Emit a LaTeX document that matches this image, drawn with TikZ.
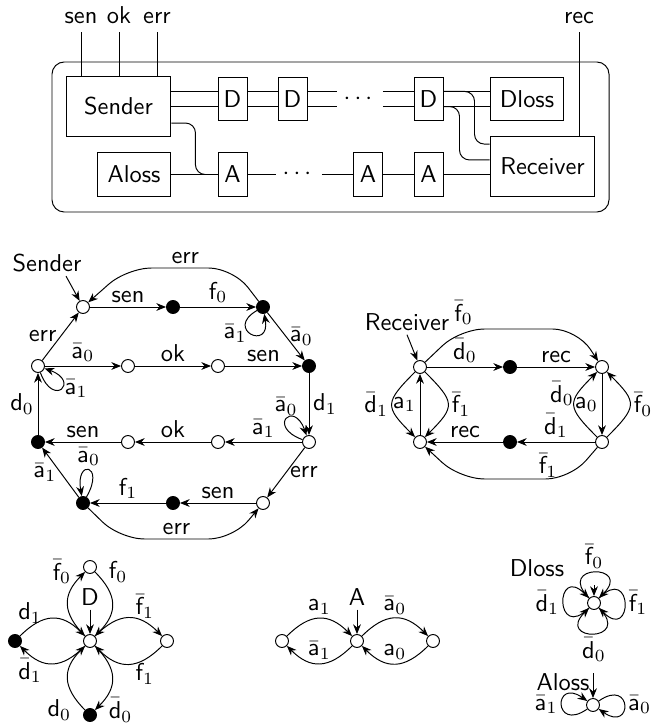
\documentclass[tikz,border=0pt]{standalone}
\usepackage{amsmath}
\usepackage{amsfonts}
\usetikzlibrary{arrows.meta}
\renewcommand{\familydefault}{\sfdefault}

\begin{document}
\begin{tikzpicture}[x=0.41pt, y=-0.41pt, >={Stealth[length=4pt, width=3.2pt]},
  every node/.append style={inner sep=1.5pt},
  st/.style={draw, circle, fill=white, inner sep=0pt, minimum size=5.3pt},
  acc/.style={st, fill=black},
  box/.style={draw, minimum width=43pt, minimum height=24.2pt},
  lbox/.style={draw, minimum width=30.3pt, minimum height=17.8pt},
  cell/.style={draw, minimum width=11.9pt, minimum height=17.8pt, inner sep=0pt},
  sig/.style={anchor=base, inner sep=3pt},
  dts/.style={inner sep=2.5pt}]
\useasboundingbox (0,0) rectangle (652,724);

% the network
\draw[rounded corners=5pt] (52,62) rectangle (609,212);
\node[box] (sender) at (118.5,106.5) {Sender};
\node[lbox] (aloss) at (134,174.5) {Aloss};
\node[cell] (d1) at (232.5,99) {D};
\node[cell] (d2) at (292.5,99) {D};
\node[dts] (ddots) at (360,99) {$\cdots$};
\node[cell] (d3) at (428.5,99) {D};
\node[lbox] (dloss) at (527,99) {Dloss};
\node[cell] (a1) at (232.5,174.5) {A};
\node[dts] (adots) at (299,174.5) {$\cdots$};
\node[cell] (a2) at (368,174.5) {A};
\node[cell] (a3) at (428.5,174.5) {A};
\node[box] (recv) at (542.5,166.5) {Receiver};

\foreach \n/\x in {sen/81, ok/119, err/157} {
  \node[sig] (\n) at (\x,24) {\n};
  \draw (\n.south) -- (\n.south |- sender.north);
}
\node[sig] (rec) at (579,24) {rec};
\draw (rec.south) -- (rec.south |- recv.north);

\foreach \dy in {3.1pt,-3.1pt} {
  \draw ([yshift=\dy]d1.west -| sender.east) -- ([yshift=\dy]d1.west);
  \draw ([yshift=\dy]d1.east) -- ([yshift=\dy]d2.west);
  \draw ([yshift=\dy]d2.east) -- ([yshift=\dy]d2.east -| ddots.west);
  \draw ([yshift=\dy]d3.west -| ddots.east) -- ([yshift=\dy]d3.west);
  \draw ([yshift=\dy]d3.east) -- ([yshift=\dy]dloss.west);
}
\draw[rounded corners=4pt] ([yshift=3.1pt]d3.east) -- ++(31,0) |- ([yshift=9.2pt]recv.west);
\draw[rounded corners=4pt] ([yshift=-3.1pt]d3.east) -- ++(16,0) |- ([yshift=2.7pt]recv.west);
\draw[rounded corners=4pt] ([yshift=-6.8pt]sender.east) -- ++(24,0) |- (a1.west);
\draw (aloss) -- (a1);
\draw (a1) -- (adots);
\draw (adots) -- (a2);
\draw (a2) -- (a3);
\draw (a3) -- (a3 -| recv.west);

% sender
\node[st] (s0) at (83,307) {};
\node[acc] (s1) at (173,307) {};
\node[acc] (s2) at (263,307) {};
\node[st] (s4) at (38,366) {};
\node[st] (s5) at (128,366) {};
\node[st] (s6) at (218,366) {};
\node[acc] (s3) at (309,366) {};
\node[acc] (s10) at (38,442) {};
\node[st] (s9) at (128,442) {};
\node[st] (s8) at (218,442) {};
\node[st] (s7) at (309,442) {};
\node[acc] (s11) at (83,503) {};
\node[acc] (s12) at (173,503) {};
\node[st] (s13) at (263,503) {};
\node (sendl) at (47,263) {Sender};
\draw[->] ([xshift=-8pt]sendl.south east) -- (s0);
\draw[->] (s0) -- node[above] {sen} (s1);
\draw[->] (s1) -- node[above] {$\mathsf{f}_0$} (s2);
\draw[->, rounded corners=10pt] (s2) -- ++(-30,-39) -- node[above, pos=0.45] {err} ++(-106,0) -- (s0);
\draw[->] (s2) to[out=-150, in=-80, min distance=5.5mm] node[left] {$\bar{\mathsf{a}}_1$} (s2);
\draw[->] (s2) -- node[right] {$\bar{\mathsf{a}}_0$} (s3);
\draw[->] (s4) -- node[left] {err} (s0);
\draw[->] (s4) -- node[above] {$\bar{\mathsf{a}}_0$} (s5);
\draw[->] (s4) to[out=-70, in=-20, min distance=5.5mm] node[right] {$\bar{\mathsf{a}}_1$} (s4);
\draw[->] (s5) -- node[above] {ok} (s6);
\draw[->] (s6) -- node[above] {sen} (s3);
\draw[->] (s3) -- node[right] {$\mathsf{d}_1$} (s7);
\draw[->] (s7) to[out=160, in=110, min distance=5.5mm] node[above] {$\bar{\mathsf{a}}_0$} (s7);
\draw[->] (s7) -- node[above] {$\bar{\mathsf{a}}_1$} (s8);
\draw[->] (s8) -- node[above] {ok} (s9);
\draw[->] (s9) -- node[above] {sen} (s10);
\draw[->] (s10) -- node[left] {$\mathsf{d}_0$} (s4);
\draw[->] (s7) -- node[right] {err} (s13);
\draw[->] (s13) -- node[above] {sen} (s12);
\draw[->] (s12) -- node[above] {$\mathsf{f}_1$} (s11);
\draw[->] (s11) to[out=60, in=100, min distance=5.5mm] node[above] {$\bar{\mathsf{a}}_0$} (s11);
\draw[->] (s11) -- node[left] {$\bar{\mathsf{a}}_1$} (s10);
\draw[->, rounded corners=10pt] (s11) -- ++(37,36) -- node[above] {err} ++(113,0) -- (s13);

% receiver
\node[st] (r0) at (420,367) {};
\node[acc] (r1) at (510,367) {};
\node[st] (r2) at (602,367) {};
\node[st] (r5) at (420,442) {};
\node[acc] (r4) at (510,442) {};
\node[st] (r3) at (602,442) {};
\node (recl) at (407,322) {Receiver};
\draw[->] (recl.south) -- (r0);
\draw[->] (r0) -- node[above] {$\bar{\mathsf{d}}_0$} (r1);
\draw[->] (r1) -- node[above] {rec} (r2);
\draw[->, rounded corners=10pt] (r0) -- ++(40,-38) -- node[above, pos=0.03] {$\bar{\mathsf{f}}_0$} ++(117,0) -- (r2);
\draw[->] (r2) -- node[left] {$\mathsf{a}_0$} (r3);
\draw[->] (r3) to[out=135, in=-135, looseness=1.7] node[left, pos=0.7] {$\bar{\mathsf{d}}_0$} (r2);
\draw[->] (r3) to[out=45, in=-45, looseness=1.7] node[right] {$\bar{\mathsf{f}}_0$} (r2);
\draw[->] (r3) -- node[above] {$\bar{\mathsf{d}}_1$} (r4);
\draw[->] (r4) -- node[above] {rec} (r5);
\draw[->, rounded corners=10pt] (r3) -- ++(-32,37) -- node[above=-1pt, pos=0.2] {$\bar{\mathsf{f}}_1$} ++(-110,0) -- (r5);
\draw[->] (r5) -- node[left] {$\mathsf{a}_1$} (r0);
\draw[->] (r0) to[out=-135, in=135, looseness=1.7] node[left] {$\bar{\mathsf{d}}_1$} (r5);
\draw[->] (r0) to[out=-45, in=45, looseness=1.7] node[right] {$\bar{\mathsf{f}}_1$} (r5);

% D
\node[st] (dc) at (90,641) {};
\node[st] (dt) at (90,567) {};
\node[st] (dr) at (167,641) {};
\node[acc] (dl) at (15,641) {};
\node[acc] (db) at (90,715) {};
\node (dlab) at (90,597) {D};
\draw[->] (dlab) -- (dc);
\draw[->] (dc) to[out=135, in=-135, looseness=1.3] node[left=4pt, pos=1] {$\bar{\mathsf{f}}_0$} (dt);
\draw[->] (dt) to[out=-45, in=45, looseness=1.3] node[right=4pt, pos=0] {$\mathsf{f}_0$} (dc);
\draw[->] (dc) to[out=45, in=135, looseness=1.3] node[above, pos=0.75] {$\bar{\mathsf{f}}_1$} (dr);
\draw[->] (dr) to[out=-135, in=-45, looseness=1.3] node[below, pos=0.25] {$\mathsf{f}_1$} (dc);
\draw[->] (dl) to[out=45, in=135, looseness=1.3] node[above, pos=0.15] {$\mathsf{d}_1$} (dc);
\draw[->] (dc) to[out=-135, in=-45, looseness=1.3] node[below, pos=0.85] {$\bar{\mathsf{d}}_1$} (dl);
\draw[->] (db) to[out=135, in=-135, looseness=1.3] node[left=4pt, pos=0] {$\mathsf{d}_0$} (dc);
\draw[->] (dc) to[out=-45, in=45, looseness=1.3] node[right=4pt, pos=1] {$\bar{\mathsf{d}}_0$} (db);

% A
\node[st] (al) at (282,641) {};
\node[st] (ac) at (357,641) {};
\node[st] (ar) at (433,641) {};
\node (alab) at (357,597) {A};
\draw[->] (alab) -- (ac);
\draw[->] (al) to[out=45, in=135, looseness=1.3] node[above] {$\mathsf{a}_1$} (ac);
\draw[->] (ac) to[out=-135, in=-45, looseness=1.3] node[above] {$\bar{\mathsf{a}}_1$} (al);
\draw[->] (ac) to[out=45, in=135, looseness=1.3] node[above] {$\bar{\mathsf{a}}_0$} (ar);
\draw[->] (ar) to[out=-135, in=-45, looseness=1.3] node[above] {$\mathsf{a}_0$} (ac);

% Dloss
\node[st] (dls) at (594,603) {};
\node (dlsl) at (537,568) {Dloss};
\coordinate (dlsi) at (594,585);
\draw[->] (dlsi) -- (dls);
\draw[->] (dls) to[out=135, in=45, min distance=7mm] node[above] {$\bar{\mathsf{f}}_0$} (dls);
\draw[->] (dls) to[out=45, in=-45, min distance=7mm] node[right] {$\bar{\mathsf{f}}_1$} (dls);
\draw[->] (dls) to[out=-45, in=-135, min distance=7mm] node[below] {$\bar{\mathsf{d}}_0$} (dls);
\draw[->] (dls) to[out=-135, in=135, min distance=7mm] node[left] {$\bar{\mathsf{d}}_1$} (dls);

% Aloss
\node[st] (als) at (593,705) {};
\node (alsl) at (563,682) {Aloss};
\coordinate (alsi) at (593,673);
\draw[->] (alsi) -- (als);
\draw[->] (als) to[out=-145, in=145, min distance=6mm] node[left] {$\bar{\mathsf{a}}_1$} (als);
\draw[->] (als) to[out=35, in=-35, min distance=6mm] node[right] {$\bar{\mathsf{a}}_0$} (als);
\end{tikzpicture}
\end{document}
